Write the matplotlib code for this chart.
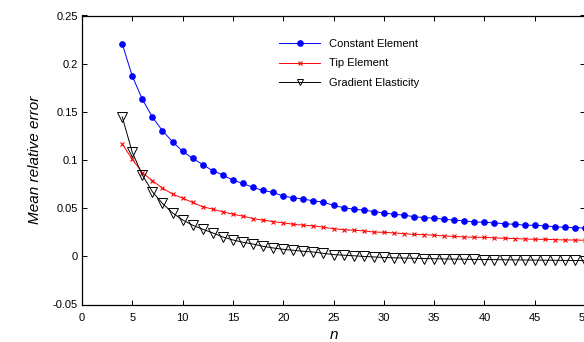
import matplotlib as mpl
import matplotlib.pyplot as plt

n = list(range(4, 51))

constant_element = [0.2205, 0.187, 0.163, 0.1445, 0.1303, 0.119, 0.109, 0.1017, 0.0953,
                    0.0888, 0.0845, 0.079, 0.0757, 0.0715, 0.0684, 0.0663, 0.0625,
                    0.0608, 0.0594, 0.0576, 0.0563, 0.0528, 0.0505, 0.049, 0.0479,
                    0.0465, 0.0451, 0.0437, 0.0427, 0.0412, 0.0402, 0.0396, 0.0385,
                    0.0376, 0.0368, 0.0356, 0.0354, 0.0347, 0.0338, 0.0333, 0.0324,
                    0.0322, 0.0316, 0.0307, 0.0302, 0.0296, 0.0295]

tip_element = [0.1165, 0.1007, 0.0868, 0.0785, 0.0708, 0.0646, 0.0604, 0.0559, 0.0514,
               0.049, 0.0462, 0.0438, 0.0417, 0.0392, 0.0375, 0.0361, 0.0347, 0.0333,
               0.0323, 0.0316, 0.0302, 0.0287, 0.0276, 0.0271, 0.0264, 0.0252, 0.0249,
               0.0243, 0.0236, 0.0227, 0.0225, 0.0219, 0.0212, 0.0206, 0.0201, 0.0198,
               0.0197, 0.0191, 0.0188, 0.0184, 0.018, 0.0177, 0.0176, 0.0173, 0.017,
               0.0169, 0.0167]

gradient_elasticity = [0.1448, 0.1078, 0.0844, 0.067, 0.0549, 0.0451, 0.0378, 0.0323,
                       0.0281, 0.0243, 0.0201, 0.017, 0.0146, 0.0128, 0.0104, 0.0087,
                       0.0073, 0.0063, 0.0052, 0.0045, 0.0031, 0.0018, 0.0012, 0.0006,
                       -0.0001, -0.0006, -0.0012, -0.0015, -0.0018, -0.002, -0.0023,
                       -0.0025, -0.0027, -0.0029, -0.003, -0.0032, -0.0033, -0.0034,
                       -0.0036, -0.0037, -0.0038, -0.0039, -0.004, -0.0041, -0.0042,
                       -0.0043, -0.0044]

mpl.rcParams['font.family'] = ['Liberation Sans', 'DejaVu Sans']
mpl.rcParams['font.size'] = 8

fig = plt.figure(figsize=(5.84, 3.42), dpi=100)
ax = fig.add_axes([82 / 584, 1 - 304.5 / 342, 503 / 584, 289 / 342])

ax.plot(n, constant_element, color='blue', marker='o', markersize=3.8, linewidth=0.7,
        label='Constant Element')
ax.plot(n, tip_element, color='red', marker='x', markersize=3.5, markeredgewidth=0.8,
        linewidth=0.7, label='Tip Element')
ax.plot(n, gradient_elasticity, color='black', marker='v', markersize=6.5,
        markerfacecolor='none', markeredgewidth=0.7, linewidth=0.7,
        label='Gradient Elasticity')

ax.set_xlim(0, 50)
ax.set_ylim(-0.05, 0.25)
ax.set_xticks(range(0, 51, 5))
ax.set_yticks([-0.05, 0, 0.05, 0.1, 0.15, 0.2, 0.25])
ax.set_yticklabels(['-0.05', '0', '0.05', '0.1', '0.15', '0.2', '0.25'])
ax.tick_params(direction='in', top=True, right=True, length=3.5, width=0.7)
ax.tick_params(axis='x', pad=6)
ax.tick_params(axis='y', pad=3)
for s in ax.spines.values():
    s.set_linewidth(0.9)

ax.set_xlabel('n', fontsize=11, style='italic', labelpad=3.5)
ax.set_ylabel('Mean relative error', fontsize=11, style='italic', labelpad=8)

leg = ax.legend(loc='upper left', bbox_to_anchor=(279 / 584, 1 - 39 / 342),
                bbox_transform=fig.transFigure, frameon=False, fontsize=8,
                handlelength=3.7, handletextpad=0.8, labelspacing=0.85, borderpad=0,
                borderaxespad=0)
leg.legend_handles[2].set_markersize(5)

fig.savefig('out.png', dpi=100)
